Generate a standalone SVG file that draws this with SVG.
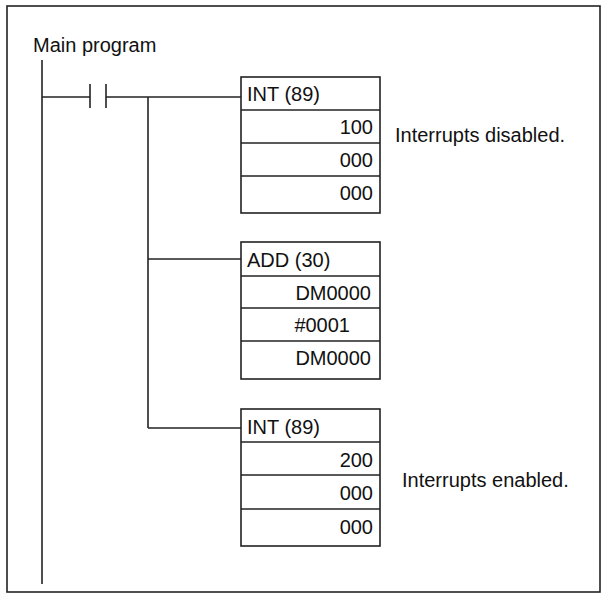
<svg xmlns="http://www.w3.org/2000/svg" width="609" height="601" viewBox="0 0 609 601">
<style>
line,rect{stroke:#222;stroke-width:1.6;fill:none}
text{font-family:"Liberation Sans",Arial,sans-serif;font-size:20px;fill:#111}
.r{text-anchor:end}
</style>
<rect x="7" y="6" width="593" height="586" fill="#fff"/>
<text x="33" y="52">Main program</text>
<g id="connectors">
<line x1="42" y1="60" x2="42" y2="584"/>
<line x1="42" y1="97" x2="90" y2="97"/>
<line x1="90" y1="84" x2="90" y2="108"/>
<line x1="106" y1="84" x2="106" y2="108"/>
<line x1="106" y1="97" x2="241" y2="97"/>
<line x1="148" y1="97" x2="148" y2="428"/>
<line x1="148" y1="259" x2="241" y2="259"/>
<line x1="148" y1="428" x2="241" y2="428"/>
</g>
<g id="int1">
<rect x="241" y="77" width="139" height="136"/>
<line x1="241" y1="110" x2="380" y2="110"/><line x1="241" y1="143" x2="380" y2="143"/><line x1="241" y1="176" x2="380" y2="176"/>
<text x="247" y="101">INT (89)</text>
<text class="r" x="373" y="134">100</text><text class="r" x="373" y="167">000</text><text class="r" x="373" y="200">000</text>
</g>
<text x="395" y="142">Interrupts disabled.</text>
<g id="add">
<rect x="241" y="242" width="139" height="137"/>
<line x1="241" y1="276" x2="380" y2="276"/><line x1="241" y1="308" x2="380" y2="308"/><line x1="241" y1="341" x2="380" y2="341"/>
<text x="247" y="267">ADD (30)</text>
<text class="r" x="371" y="300">DM0000</text><text class="r" x="350" y="332">#0001</text><text class="r" x="371" y="365">DM0000</text>
</g>
<g id="int2">
<rect x="241" y="409" width="139" height="137"/>
<line x1="241" y1="442" x2="380" y2="442"/><line x1="241" y1="475" x2="380" y2="475"/><line x1="241" y1="509" x2="380" y2="509"/>
<text x="247" y="434">INT (89)</text>
<text class="r" x="373" y="467">200</text><text class="r" x="373" y="500">000</text><text class="r" x="373" y="534">000</text>
</g>
<text x="402" y="487">Interrupts enabled.</text>
</svg>
